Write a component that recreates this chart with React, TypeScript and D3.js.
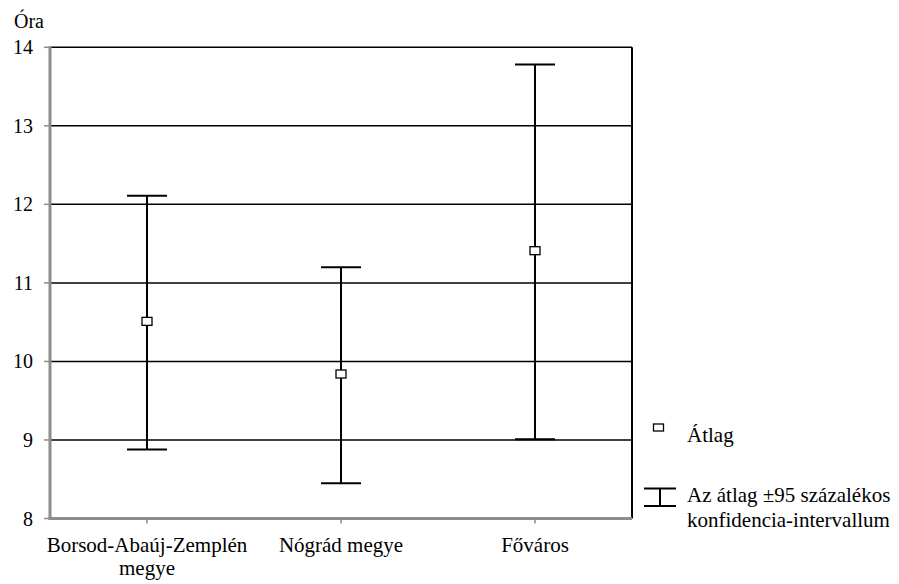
import React from "react";
import * as d3 from "d3";

const categories = ["Borsod-Abaúj-Zemplén\nmegye", "Nógrád megye", "Főváros"];
const means = [10.51, 9.84, 11.41];
const lower = [8.88, 8.45, 9.01];
const upper = [12.11, 11.2, 13.78];
const yTicks = [8, 9, 10, 11, 12, 13, 14];
const yTitle = "Óra";
const legendMean = "Átlag";
const legendCI = ["Az átlag ±95 százalékos", "konfidencia-intervallum"];

const W = 899;
const H = 584;
const left = 50;
const right = 632;
const top = 47.3;
const bottom = 518.5;

export default function App() {
  const x = d3.scaleBand<number>().domain(categories.map((_, i) => i)).range([left, right]);
  const y = d3.scaleLinear().domain([8, 14]).range([bottom, top]);
  const cx = (i: number) => (x(i) as number) + x.bandwidth() / 2;
  const cap = 20;
  const ts = { fontFamily: '"Liberation Serif"' };
  return (
    <svg width={W} height={H} style={{ position: "absolute", left: 0, top: 0, background: "#fff" }}>
      <rect x={0} y={0} width={W} height={H} fill="#fff" />
      <text x={14} y={28} fontSize={20} fill="#000" style={ts}>{yTitle}</text>
      {yTicks.filter((t) => t > 8).map((t) => (
        <line key={t} x1={left} x2={right} y1={y(t)} y2={y(t)} stroke="#000" strokeWidth={1.5} />
      ))}
      <line x1={right} x2={right} y1={top} y2={bottom} stroke="#000" strokeWidth={2} />
      <line x1={left} x2={left} y1={top - 1} y2={bottom + 1.5} stroke="#8c8c8c" strokeWidth={3} />
      {yTicks.map((t) => (
        <g key={t}>
          <line x1={44} x2={left} y1={y(t)} y2={y(t)} stroke="#8c8c8c" strokeWidth={1.5} />
          <text x={33} y={y(t) + 7} fontSize={20} textAnchor="end" fill="#000" style={ts}>{t}</text>
        </g>
      ))}
      <line x1={left - 1.5} x2={right} y1={bottom} y2={bottom} stroke="#8c8c8c" strokeWidth={3} />
      {categories.map((c, i) => (
        <g key={i}>
          <line x1={cx(i)} x2={cx(i)} y1={bottom} y2={bottom + 5} stroke="#8c8c8c" strokeWidth={1.5} />
          {c.split("\n").map((ln, k) => (
            <text key={k} x={cx(i)} y={551.5 + k * 23} fontSize={21} textAnchor="middle" fill="#000" style={ts}>{ln}</text>
          ))}
        </g>
      ))}
      {categories.map((_, i) => (
        <g key={i} stroke="#000" strokeWidth={2}>
          <line x1={cx(i)} x2={cx(i)} y1={y(upper[i])} y2={y(lower[i])} />
          <line x1={cx(i) - cap} x2={cx(i) + cap} y1={y(upper[i])} y2={y(upper[i])} />
          <line x1={cx(i) - cap} x2={cx(i) + cap} y1={y(lower[i])} y2={y(lower[i])} />
          <rect x={cx(i) - 5} y={y(means[i]) - 4} width={10} height={8} fill="#fff" strokeWidth={1.3} />
        </g>
      ))}
      <rect x={653.5} y={424} width={10} height={7} fill="#fff" stroke="#000" strokeWidth={1.3} />
      <text x={687} y={441.5} fontSize={21} fill="#000" style={ts}>{legendMean}</text>
      <g stroke="#000" strokeWidth={2}>
        <line x1={644} x2={676} y1={488.5} y2={488.5} />
        <line x1={644} x2={676} y1={506} y2={506} />
        <line x1={660} x2={660} y1={488.5} y2={506} />
      </g>
      {legendCI.map((ln, k) => (
        <text key={k} x={687} y={501.5 + k * 25.5} fontSize={21} fill="#000" style={ts}>{ln}</text>
      ))}
    </svg>
  );
}
